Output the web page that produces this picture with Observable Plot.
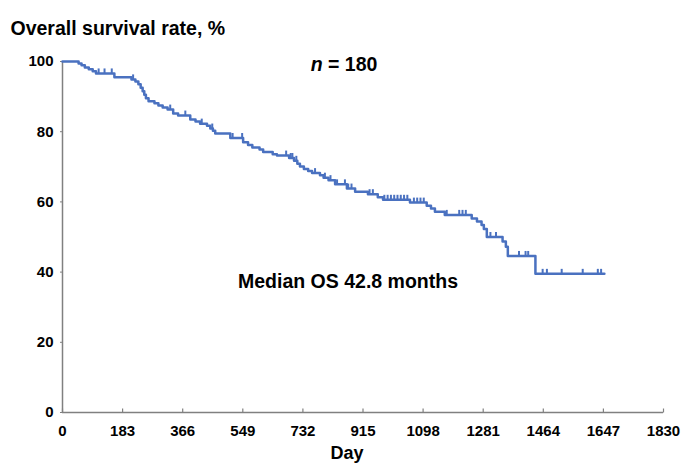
<!DOCTYPE html>
<html>
<head>
<meta charset="utf-8">
<script src="https://cdn.jsdelivr.net/npm/d3@7"></script>
<script src="https://cdn.jsdelivr.net/npm/@observablehq/plot@0.6"></script>
<style>
  html, body { margin: 0; padding: 0; background: #fff; }
</style>
</head>
<body>
<div id="chart"></div>
<script>
// ---- data ----
const days = [0, 49, 58, 68, 80, 92, 102, 158, 210, 222, 231, 238, 244, 249, 254, 262,
  280, 292, 305, 320, 337, 352, 389, 405, 419, 440, 450, 458, 465, 511, 550, 565,
  578, 600, 611, 640, 653, 690, 705, 715, 723, 735, 748, 760, 784, 795, 810, 830,
  866, 891, 930, 960, 976, 1058, 1109, 1122, 1134, 1164, 1246, 1262, 1276, 1283, 1292, 1340,
  1350, 1356, 1440, 1650];
const survival = [100, 99.4, 98.9, 98.3, 97.8, 97.2, 96.6, 95.5, 94.9, 94.3, 93.5, 92.5, 91.5, 90.5, 89.5, 88.7,
  88.1, 87.5, 86.9, 86.3, 85.2, 84.6, 83.5, 82.9, 82.3, 81.7, 80.9, 80.3, 79.5, 78.2, 77.0, 76.2,
  75.5, 74.9, 74.2, 73.6, 73.2, 72.5, 71.7, 70.9, 70.1, 69.4, 68.8, 68.2, 67.6, 66.9, 66.2, 65.0,
  63.8, 62.9, 62.2, 61.3, 60.6, 59.8, 58.9, 58.1, 57.2, 56.3, 55.3, 54.4, 53.4, 52.3, 50.0, 48.7,
  47.2, 44.6, 39.5, 39.5];
const censorDays = [110, 128, 150, 215, 328, 374, 424, 456, 518, 547, 681, 695, 700, 712, 769, 799,
  816, 836, 860, 870, 880, 935, 945, 980, 990, 1000, 1010, 1020, 1030, 1040, 1050, 1070, 1080,
  1090, 1100, 1170, 1208, 1218, 1228, 1303, 1320, 1390, 1410, 1418, 1462, 1475, 1520, 1584, 1630, 1640];
const xTicks = [0, 183, 366, 549, 732, 915, 1098, 1281, 1464, 1647, 1830];
const yTicks = [0, 20, 40, 60, 80, 100];
const title = "Overall survival rate, %";
const nLabel = "n = 180";
const medianLabel = "Median OS 42.8 months";
const xLabel = "Day";

// ---- build tables ----
const curve = days.map((d, i) => ({day: d, surv: survival[i]}));
const bis = d3.bisector(d => d.day).right;
const censors = censorDays.map(d => ({day: d, surv: curve[Math.max(0, bis(curve, d) - 1)].surv}));

const blue = "#4a71c0";
const axisGray = "#808080";

// vertical tick symbols (drawn upward from the anchor point)
const upTick = {draw(ctx, size) { const r = Math.sqrt(size / Math.PI); ctx.moveTo(0, 0); ctx.lineTo(0, -r); }};

const chart = Plot.plot({
  width: 689,
  height: 469,
  marginLeft: 62,
  marginRight: 26,
  marginTop: 61,
  marginBottom: 57,
  style: {fontFamily: "'Liberation Sans', Arial, Helvetica, sans-serif", fontWeight: "bold", fontSize: "15px", color: "#000", background: "#fff"},
  x: {domain: [0, 1830]},
  y: {domain: [0, 100]},
  marks: [
    Plot.axisX({ticks: xTicks, tickSize: 0, tickPadding: 13, tickFormat: d => String(d), label: null, fontSize: 15, fontWeight: "bold"}),
    Plot.axisY({ticks: yTicks, tickSize: 2, tickPadding: 7, tickFormat: d => String(d), label: null, stroke: axisGray, fontSize: 15, fontWeight: "bold"}),
    Plot.dot(xTicks, {x: d => d, frameAnchor: "bottom", symbol: upTick, r: 4, stroke: axisGray, strokeWidth: 1.2, fill: "none"}),
    Plot.ruleY([0], {stroke: axisGray, strokeWidth: 1.5}),
    Plot.ruleX([0], {stroke: axisGray, strokeWidth: 1.5}),
    Plot.line(curve, {x: "day", y: "surv", curve: "step-after", stroke: blue, strokeWidth: 2.5}),
    Plot.dot(censors, {x: "day", y: "surv", symbol: upTick, r: 5, stroke: blue, strokeWidth: 2, fill: "none"}),
    Plot.text([title], {frameAnchor: "top-left", text: d => d, textAnchor: "start", dx: -52, dy: -40, fontSize: 19.5, fontWeight: "bold"}),
    Plot.text([nLabel], {frameAnchor: "top", text: d => d, dx: -19, dy: -4, fontSize: 19.5, fontWeight: "bold"}),
    Plot.text([medianLabel], {frameAnchor: "middle", text: d => d, dx: -15, dy: 45, fontSize: 19.5, fontWeight: "bold"}),
    Plot.text([xLabel], {frameAnchor: "bottom", text: d => d, dx: -16, dy: 46, fontSize: 18, fontWeight: "bold"})
  ]
});

// italic "n"
d3.select(chart).selectAll("text").filter(function() { return this.textContent === nLabel; })
  .each(function() {
    const t = d3.select(this);
    t.text(null);
    t.append("tspan").attr("font-style", "italic").text("n");
    t.append("tspan").text(" = 180");
  });

document.getElementById("chart").appendChild(chart);
</script>
</body>
</html>
